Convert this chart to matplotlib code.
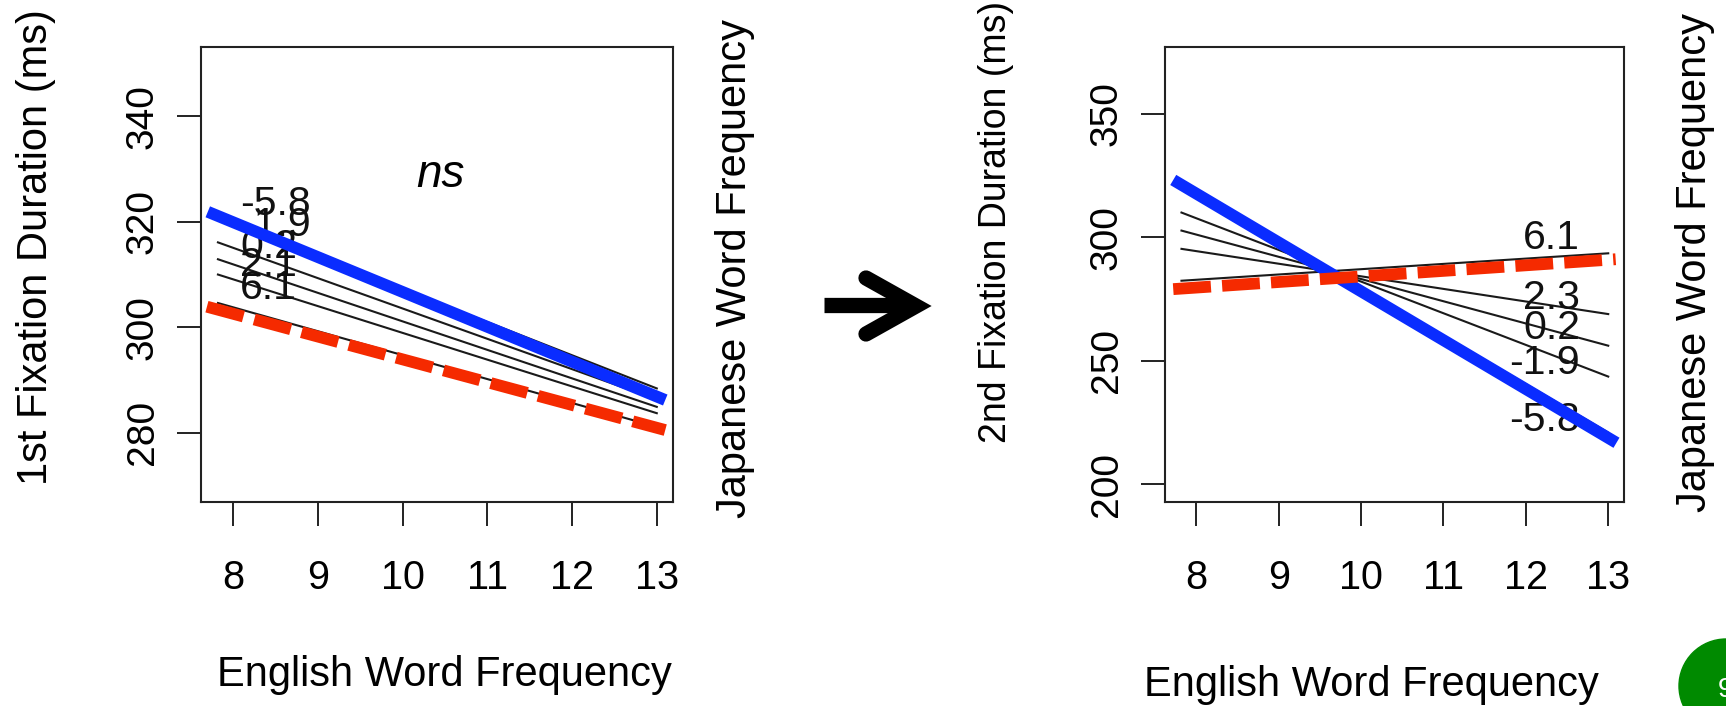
import numpy as np
import matplotlib
matplotlib.use("Agg")
import matplotlib.pyplot as plt
from matplotlib.lines import Line2D
from matplotlib.patches import Ellipse

plt.rcParams['font.family'] = ['Liberation Sans', 'DejaVu Sans']

W, H = 1726, 706

#### 左パネル (1st fixation)
x_thin = [7.82, 13.0]
left_labels = ['-5.8', '-1.9', '0.2', '2.1', '6.1']
left_start = [321.0, 316.1, 312.9, 310.0, 304.6]
left_end = [288.4, 286.3, 284.9, 283.7, 281.1]
left_label_y = [323.4, 319.4, 315.3, 311.8, 307.4]
left_blue_x = [7.70, 13.10]
left_blue_y = [321.9, 286.2]
left_red_x = [7.69, 13.10]
left_red_y = [303.9, 280.5]
left_yticks = [280, 300, 320, 340]

#### 右パネル (2nd fixation)
right_labels = ['6.1', '2.3', '0.2', '-1.9', '-5.8']
right_start = [282.4, 295.3, 302.7, 310.0, 322.5]
right_end = [293.5, 268.9, 256.1, 243.6, 220.9]
right_label_y = [299.6, 275.3, 263.2, 249.0, 226.0]
right_blue_x = [7.72, 13.10]
right_blue_y = [323.2, 216.8]
right_red_x = [7.72, 13.09]
right_red_y = [279.0, 291.1]
right_yticks = [200, 250, 300, 350]

xticks = [8, 9, 10, 11, 12, 13]

BLUE = '#0a2cff'
RED = '#f52a00'


def px(x, y):
    return x / W, 1 - y / H


def style_ax(ax, yticks, ylim):
    ax.set_xlim(7.62, 13.195)
    ax.set_ylim(*ylim)
    ax.set_xticks(xticks)
    ax.set_xticklabels([str(t) for t in xticks], fontsize=28.5)
    ax.set_yticks(yticks)
    ax.set_yticklabels([str(t) for t in yticks], fontsize=28, rotation=90, va='center')
    ax.tick_params(axis='both', direction='out', length=17, width=1.4, color='#222222')
    ax.tick_params(axis='x', pad=24)
    ax.tick_params(axis='y', pad=12)
    for s in ax.spines.values():
        s.set_linewidth(1.5)
        s.set_color('#222222')


def panel(ax, starts, ends, labels, label_y, label_x, ha, bx, by, rx, ry, fs):
    for s, e in zip(starts, ends):
        ax.plot(x_thin, [s, e], color='#1a1a1a', lw=1.5, zorder=2)
    for lab, ly in zip(labels, label_y):
        ax.text(label_x, ly, lab, fontsize=fs, ha=ha, va='center', color='#111111', zorder=3)
    ax.plot(bx, by, color=BLUE, lw=8.5, solid_capstyle='butt', zorder=4)
    ax.plot(rx, ry, color=RED, lw=8.5, linestyle=(0, (3.2, 0.95)), zorder=5)


fig = plt.figure(figsize=(W / 100, H / 100), dpi=100)

ax1 = fig.add_axes([201 / W, 1 - 502.3 / H, 472.3 / W, 455 / H])
style_ax(ax1, left_yticks, (266.8, 353.1))
panel(ax1, left_start, left_end, left_labels, left_label_y, 8.08, 'left',
      left_blue_x, left_blue_y, left_red_x, left_red_y, 29.5)
ax1.text(10.45, 328.9, 'ns', fontsize=33, style='italic', ha='center', va='center')

ax2 = fig.add_axes([1165 / W, 1 - 502.3 / H, 459.3 / W, 455 / H])
style_ax(ax2, right_yticks, (192.7, 376.9))
panel(ax2, right_start, right_end, right_labels, right_label_y, 12.66, 'right',
      right_blue_x, right_blue_y, right_red_x, right_red_y, 29.5)

# 軸ラベル
fig.text(*px(444, 675), 'English Word Frequency', fontsize=30, ha='center', va='center')
fig.text(*px(1371, 685), 'English Word Frequency', fontsize=30, ha='center', va='center')
fig.text(*px(36, 247), '1st Fixation Duration (ms)', fontsize=30, rotation=90, ha='center', va='center')
fig.text(*px(996, 222), '2nd Fixation Duration (ms)', fontsize=27, rotation=90, ha='center', va='center')
fig.text(*px(735, 268), 'Japanese Word Frequency', fontsize=30, rotation=90, ha='center', va='center')
fig.text(*px(1695, 262), 'Japanese Word Frequency', fontsize=30, rotation=90, ha='center', va='center')

# 矢印
shaft = [px(824, 305.5), px(903, 305.5)]
fig.add_artist(Line2D([p[0] for p in shaft], [p[1] for p in shaft], transform=fig.transFigure,
                      color='black', lw=11, solid_capstyle='butt'))
head = [px(866, 278), px(916, 306), px(866, 334)]
fig.add_artist(Line2D([p[0] for p in head], [p[1] for p in head], transform=fig.transFigure,
                      color='black', lw=11, solid_capstyle='round', solid_joinstyle='miter'))

# 右下の丸
cx, cy = px(1726, 686)
fig.add_artist(Ellipse((cx, cy), 2 * 47 / W, 2 * 47 / H, transform=fig.transFigure,
                       color='#008a00', zorder=10))
fig.text(*px(1718, 690), '9', fontsize=20, color='white', ha='left', va='center', zorder=11)

fig.savefig('out.png', dpi=100)
